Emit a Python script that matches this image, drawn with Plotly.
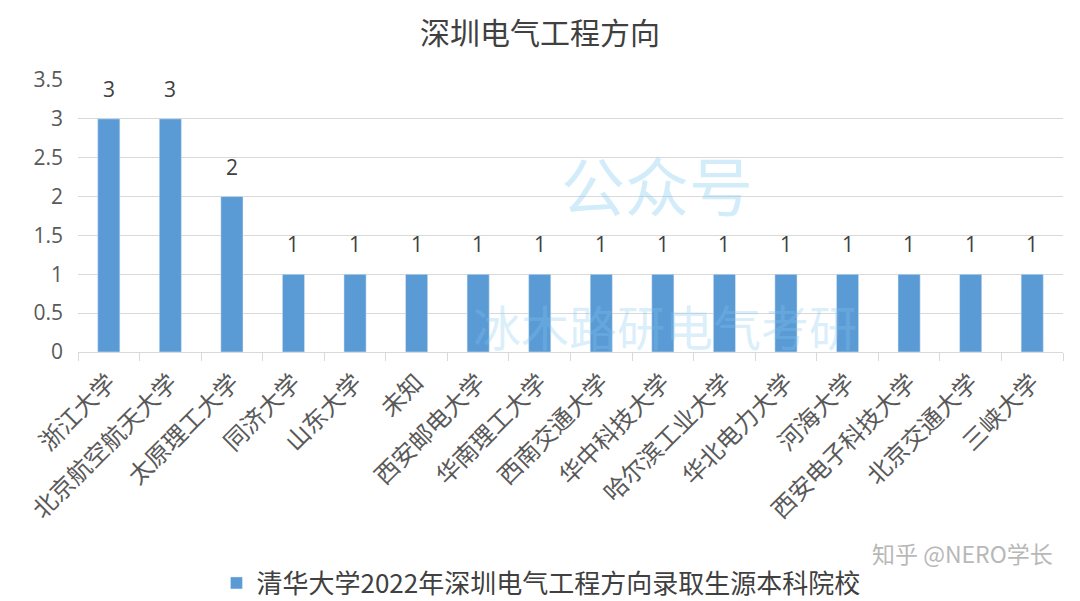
import plotly.graph_objects as go

schools = [
    "浙江大学", "北京航空航天大学", "太原理工大学", "同济大学", "山东大学", "未知",
    "西安邮电大学", "华南理工大学", "西南交通大学", "华中科技大学", "哈尔滨工业大学",
    "华北电力大学", "河海大学", "西安电子科技大学", "北京交通大学", "三峡大学",
]
counts = [3, 3, 2, 1, 1, 1, 1, 1, 1, 1, 1, 1, 1, 1, 1, 1]
y_ticks = [0, 0.5, 1, 1.5, 2, 2.5, 3, 3.5]
y_tick_text = ["0", "0.5", "1", "1.5", "2", "2.5", "3", "3.5"]

FONT = "Noto Sans CJK SC"

fig = go.Figure(go.Bar(
    x=schools,
    y=counts,
    name="清华大学2022年深圳电气工程方向录取生源本科院校",
    marker_color="#5B9BD5",
))

# value labels sit well above each bar
for s, c in zip(schools, counts):
    fig.add_annotation(x=s, y=c, text=str(c), showarrow=False, yanchor="bottom", yshift=14,
                       font=dict(size=21, color="#404040", family="Open Sans"))

# faint watermark texts
fig.add_annotation(text="公众号", x=0.588, y=0.62, xref="paper", yref="paper", yanchor="middle",
                   showarrow=False, font=dict(size=64, color="rgba(130,200,240,0.35)", family=FONT))
fig.add_annotation(text="冰木路研电气考研", x=0.596, y=0.1, xref="paper", yref="paper", yanchor="middle",
                   showarrow=False, font=dict(size=48, color="rgba(130,200,240,0.30)", family=FONT))
fig.add_annotation(text="知乎 @NERO学长", x=(1055 - 78) / 985, y=-0.739, xref="paper", yref="paper",
                   xanchor="right", yanchor="middle", showarrow=False,
                   font=dict(size=23, color="#b8b8b8", family=FONT))

fig.update_layout(
    width=1080,
    height=601,
    title=dict(text="深圳电气工程方向", x=(540 - 8) / 1080, xanchor="center", y=1 - 25 / 601, yanchor="middle",
               font=dict(size=30, color="#404040", family=FONT)),
    font=dict(family=FONT, color="#595959"),
    paper_bgcolor="white",
    plot_bgcolor="white",
    margin=dict(l=70, r=25, t=72, b=257),
    bargap=0.64,
    showlegend=True,
    legend=dict(orientation="h", x=0.47, xanchor="center", y=1 - 575 / 601, yref="container",
                yanchor="middle", font=dict(size=26, color="#404040", family=FONT)),
    xaxis=dict(tickangle=-45, tickfont=dict(size=24, color="#595959", family=FONT),
               showline=True, linecolor="#d9d9d9", linewidth=1, automargin=False,
               ticks="outside", tickson="boundaries", ticklen=8, tickcolor="#d9d9d9",
               ticklabelstandoff=6),
    yaxis=dict(range=[0, 3.5], tickvals=y_ticks, ticktext=y_tick_text, automargin=False,
               tickfont=dict(size=21, color="#595959", family="Open Sans"),
               gridcolor="#d9d9d9", zeroline=False, ticklabelstandoff=14),
)

fig.write_html("out.html")
